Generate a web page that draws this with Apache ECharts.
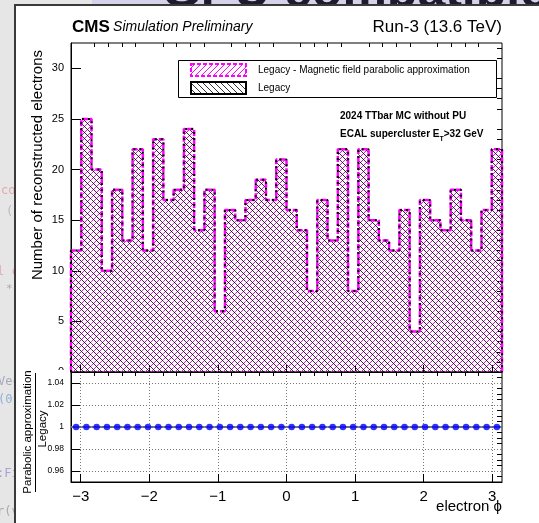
<!DOCTYPE html>
<html><head><meta charset="utf-8">
<script src="https://cdn.jsdelivr.net/npm/echarts@6/dist/echarts.min.js"></script>
<style>html,body{margin:0;padding:0;background:#fff}#c{width:539px;height:523px}</style>
</head><body><div id="c"></div>
<script>
// ---------- data ----------
const phiMin = -Math.PI, phiMax = Math.PI, nBins = 42;
const legacyCounts    = [12,25,20,10,18,13,22,12,23,17,18,24,14,18,6,16,15,17,19,17,21,16,14,8,17,13,22,8,22,15,13,12,16,4,17,15,14,18,15,12,16,22];
const parabolicCounts = [12,25,20,10,18,13,22,12,23,17,18,24,14,18,6,16,15,17,19,17,21,16,14,8,17,13,22,8,22,15,13,12,16,4,17,15,14,18,15,12,16,22];
const countTicks = [0,5,10,15,20,25,30];
const phiTicks = [-3,-2,-1,0,1,2,3];
const ratioTicks = [0.96,0.98,1,1.02,1.04];
const legendLabels = ['Legacy - Magnetic field parabolic approximation','Legacy'];
const titleLeft = 'CMS', titleItalic = 'Simulation Preliminary', titleRight = 'Run-3 (13.6 TeV)';
const note1 = '2024 TTbar MC without PU';
const yTitle = 'Number of reconstructed electrons';
const xTitle = 'electron \u03d5';
const ratioNum = 'Parabolic approximation', ratioDen = 'Legacy';

// ---------- derived ----------
const w = (phiMax - phiMin) / nBins;
function stepData(counts){
  const d = [[phiMin, 0]];
  counts.forEach((c,i)=>d.push([phiMin + i*w, c]));
  d.push([phiMax, counts[counts.length-1]]);
  d.push([phiMax, 0]);
  return d;
}
const binData = counts => counts.map((c,i)=>[phiMin + i*w, phiMin + (i+1)*w, c]);
const ratioData = legacyCounts.map((c,i)=>[phiMin + (i+0.5)*w, parabolicCounts[i]/c]);

function minorList(a, b, step, majorStep){
  const out=[];
  const n = Math.round((b-a)/step);
  for(let k=0;k<=n;k++){
    const v = +(a + k*step).toFixed(6);
    if (Math.abs(v/majorStep - Math.round(v/majorStep)) > 1e-6) out.push(v);
  }
  return out;
}
const minorPhi = minorList(-3, 3, 0.2, 1);
const minorCount = minorList(0, 32, 1, 5);
const minorRatio = minorList(0.95, 1.05, 0.005, 0.02);

// hatch segments clipped to a pixel rectangle, aligned to a global lattice
const HS = 6;
function hatchSegs(x0, x1, yt, yb, dir){
  const segs = [];
  if (x1 - x0 < 0.5 || yb - yt < 0.5) return segs;
  if (dir > 0){ // "/" : x + y = c
    const cStart = Math.ceil((x0 + yt - 1) / HS) * HS + 1;
    for (let c = cStart; c <= x1 + yb; c += HS){
      const lo = Math.max(x0, c - yb), hi = Math.min(x1, c - yt);
      if (hi > lo) segs.push([lo, c - lo, hi, c - hi]);
    }
  } else { // "\" : y - x = c
    const cStart = Math.ceil((yt - x1) / HS) * HS;
    for (let c = cStart; c <= yb - x0; c += HS){
      const lo = Math.max(x0, yt - c), hi = Math.min(x1, yb - c);
      if (hi > lo) segs.push([lo, lo + c, hi, hi + c]);
    }
  }
  return segs;
}
const segPath = segs => segs.map(s=>'M'+s[0].toFixed(2)+' '+s[1].toFixed(2)+'L'+s[2].toFixed(2)+' '+s[3].toFixed(2)).join('');

const MAG_HATCH = {stroke:'#ff00ff', lineWidth:1, fill:null};
const BLK_HATCH = {stroke:'rgba(0,0,0,0.8)', lineWidth:1, fill:null};

function hatchRender(dir, style){
  return (params, api)=>{
    const pTop = api.coord([api.value(0), api.value(2)]);
    const pBot = api.coord([api.value(1), 0]);
    return {type:'path', shape:{pathData: segPath(hatchSegs(pTop[0], pBot[0], pTop[1], pBot[1], dir))}, style:style, silent:true};
  };
}
function legendHatch(x, y, wd, ht, dir, style){
  return hatchSegs(x, x+wd, y, y+ht, dir).map(s=>({type:'line', shape:{x1:s[0],y1:s[1],x2:s[2],y2:s[3]}, style:style, z:11, silent:true}));
}

const FONT = 'Liberation Sans, Arial, Helvetica, sans-serif';
const mc = document.createElement('canvas').getContext('2d');
function tw(text, font){ mc.font = font; return mc.measureText(text).width; }
const minus = v => (v < 0 ? '\u2212' + (-v) : String(v));

const chart = echarts.init(document.getElementById('c'), null, {renderer:'canvas'});

const gridUp = {left:71, top:43, width:431, height:329};
const gridLo = {left:71, top:372, width:431, height:110};

const n2a = 'ECAL supercluster E', n2b = 'T', n2c = '>32 GeV';
const bold10 = 'bold 10px ' + FONT;
const n2x = 340, n2y = 134;
const wA = tw(n2a, bold10), wB = tw(n2b, 'bold 7px ' + FONT);

const tickStyle = {color:'#000', width:1};
const option = {
  animation:false,
  backgroundColor:'#ffffff',
  grid:[
    Object.assign({show:true, borderColor:'#000', borderWidth:1, backgroundColor:'#fff', z:0}, gridUp),
    Object.assign({show:true, borderColor:'#000', borderWidth:1, backgroundColor:'#fff', z:0}, gridLo)
  ],
  xAxis:[
    {gridIndex:0, type:'value', min:phiMin, max:phiMax,
     axisLine:{onZero:false, lineStyle:{color:'#000'}}, axisTick:{inside:true, length:7, lineStyle:tickStyle},
     axisLabel:{show:false}, splitLine:{show:false}},
    {gridIndex:0, type:'value', min:phiMin, max:phiMax,
     axisLine:{show:false, onZero:false}, axisTick:{inside:true, length:4, customValues:minorPhi, lineStyle:tickStyle},
     axisLabel:{show:false}, splitLine:{show:false}},
    {gridIndex:1, type:'value', min:phiMin, max:phiMax,
     axisLine:{onZero:false, lineStyle:{color:'#000'}}, axisTick:{inside:true, length:8, lineStyle:tickStyle},
     axisLabel:{show:true, showMinLabel:false, showMaxLabel:false, fontSize:15, color:'#000', fontFamily:FONT, margin:7,
       formatter:v=>minus(v)},
     splitLine:{show:true, lineStyle:{color:'#777', type:[1,2], width:1}}},
    {gridIndex:1, type:'value', min:phiMin, max:phiMax,
     axisLine:{show:false, onZero:false}, axisTick:{inside:true, length:4, customValues:minorPhi, lineStyle:tickStyle},
     axisLabel:{show:false}, splitLine:{show:false}}
  ],
  yAxis:[
    {gridIndex:0, type:'value', min:0, max:32.5, interval:5,
     axisLine:{show:true, onZero:false, lineStyle:{color:'#000'}}, axisTick:{inside:true, length:10, lineStyle:tickStyle},
     axisLabel:{showMaxLabel:false, fontSize:11, color:'#000', fontFamily:FONT, margin:7}, splitLine:{show:false}},
    {gridIndex:0, type:'value', min:0, max:32.5,
     axisLine:{show:false, onZero:false}, axisTick:{inside:true, length:5, customValues:minorCount, lineStyle:tickStyle},
     axisLabel:{show:false}, splitLine:{show:false}},
    {gridIndex:1, type:'value', min:0.95, max:1.05, splitNumber:5,
     axisLine:{show:true, onZero:false, lineStyle:{color:'#000'}}, axisTick:{inside:true, length:9, lineStyle:tickStyle},
     axisLabel:{showMinLabel:false, showMaxLabel:false, fontSize:8.5, color:'#000', fontFamily:FONT, margin:7,
       formatter:v=>String(+v.toFixed(2))},
     splitLine:{show:true, lineStyle:{color:'#777', type:[1,2], width:1}}},
    {gridIndex:1, type:'value', min:0.95, max:1.05,
     axisLine:{show:false, onZero:false}, axisTick:{inside:true, length:5, customValues:minorRatio, lineStyle:tickStyle},
     axisLabel:{show:false}, splitLine:{show:false}}
  ],
  series:[
    {type:'custom', xAxisIndex:0, yAxisIndex:0, data:binData(parabolicCounts), renderItem:hatchRender(1, MAG_HATCH), z:2},
    {type:'custom', xAxisIndex:0, yAxisIndex:0, data:binData(legacyCounts), renderItem:hatchRender(-1, BLK_HATCH), z:3},
    {type:'line', name:legendLabels[0], xAxisIndex:0, yAxisIndex:0, data:stepData(parabolicCounts), step:'end',
     symbol:'none', lineStyle:{color:'#ff00ff', width:2.5, type:[6,2]}, z:4},
    {type:'line', name:legendLabels[1], xAxisIndex:0, yAxisIndex:0, data:stepData(legacyCounts), step:'end',
     symbol:'none', lineStyle:{color:'#000', width:2, type:[2,4]}, z:5},
    {type:'custom', xAxisIndex:2, yAxisIndex:2, data:ratioData, z:5,
     renderItem:(params, api)=>{
       const p0 = api.coord([api.value(0) - w/2, api.value(1)]);
       const p1 = api.coord([api.value(0) + w/2, api.value(1)]);
       return {type:'line', shape:{x1:p0[0], y1:p0[1], x2:p1[0], y2:p1[1]}, style:{stroke:'#666680', lineWidth:2}};
     }},
    {type:'scatter', xAxisIndex:2, yAxisIndex:2, data:ratioData, symbol:'circle', symbolSize:6.5,
     itemStyle:{color:'#0000ff'}, z:6}
  ],
  graphic:[
    {type:'rect', shape:{x:0,y:0,width:539,height:523}, style:{fill:'#e6e6e6'}, z:-30, silent:true},
    {type:'rect', shape:{x:92,y:0,width:447,height:6}, style:{fill:'#d8d1ea'}, z:-29, silent:true},
    {type:'text', x:548, y:18, style:{text:'GPU compatible', font:'bold 50px '+FONT, fill:'#1c1c2c', align:'right', verticalAlign:'bottom'}, z:-28, silent:true},
    {type:'text', x:1, y:191, style:{text:'co', font:'12px DejaVu Sans Mono', fill:'#e2a7ad', verticalAlign:'middle'}, z:-28},
    {type:'text', x:6, y:212, style:{text:'(', font:'12px DejaVu Sans Mono', fill:'#b8b8c8', verticalAlign:'middle'}, z:-28},
    {type:'text', x:-3, y:272, style:{text:'l c', font:'12px DejaVu Sans Mono', fill:'#e2a7ad', verticalAlign:'middle'}, z:-28},
    {type:'text', x:6, y:289, style:{text:'*', font:'11px DejaVu Sans Mono', fill:'#aaaaaa', verticalAlign:'middle'}, z:-28},
    {type:'text', x:-2, y:382, style:{text:'Vec', font:'12px DejaVu Sans Mono', fill:'#a6a9bd', verticalAlign:'middle'}, z:-28},
    {type:'text', x:-2, y:400, style:{text:'(0)', font:'12px DejaVu Sans Mono', fill:'#8fb0d8', verticalAlign:'middle'}, z:-28},
    {type:'text', x:-3, y:474, style:{text:':Fi', font:'12px DejaVu Sans Mono', fill:'#a9a2da', verticalAlign:'middle'}, z:-28},
    {type:'text', x:-3, y:512, style:{text:'r(v', font:'12px DejaVu Sans Mono', fill:'#aaaaaa', verticalAlign:'middle'}, z:-28},
    {type:'rect', shape:{x:14,y:4,width:525,height:519}, style:{fill:'#3a3a3a'}, z:-27, silent:true},
    {type:'rect', shape:{x:16,y:6,width:523,height:517}, style:{fill:'#ffffff'}, z:-26, silent:true},
    {type:'text', x:72, y:27, style:{rich:{b:{font:'bold 17px '+FONT, fill:'#000'}, i:{font:'italic 14px '+FONT, fill:'#000'}},
      text:'{b|'+titleLeft+'} {i|'+titleItalic+'}', verticalAlign:'middle'}, z:10},
    {type:'text', x:502, y:27, style:{text:titleRight, font:'17px '+FONT, fill:'#000', align:'right', verticalAlign:'middle'}, z:10},
    {type:'rect', shape:{x:178.5,y:60.5,width:318,height:37}, style:{fill:'#fff', stroke:'#000', lineWidth:1}, z:10},
    ...legendHatch(191, 64, 55, 12, 1, MAG_HATCH),
    ...legendHatch(191, 82, 55, 12, -1, BLK_HATCH),
    {type:'rect', shape:{x:191,y:64,width:55,height:12}, style:{fill:null, stroke:'#ff00ff', lineWidth:2, lineDash:[4,2]}, z:12},
    {type:'rect', shape:{x:191,y:82,width:55,height:12}, style:{fill:null, stroke:'#000', lineWidth:2}, z:12},
    {type:'text', x:258, y:70.5, style:{text:legendLabels[0], font:'10px '+FONT, fill:'#000', verticalAlign:'middle'}, z:11},
    {type:'text', x:258, y:88.5, style:{text:legendLabels[1], font:'10px '+FONT, fill:'#000', verticalAlign:'middle'}, z:11},
    {type:'text', x:340, y:116, style:{text:note1, font:bold10, fill:'#000', verticalAlign:'middle'}, z:11},
    {type:'text', x:n2x, y:n2y, style:{text:n2a, font:bold10, fill:'#000', verticalAlign:'middle'}, z:11},
    {type:'text', x:n2x+wA, y:n2y+5, style:{text:n2b, font:'bold 7px '+FONT, fill:'#000', verticalAlign:'middle'}, z:11},
    {type:'text', x:n2x+wA+wB, y:n2y, style:{text:n2c, font:bold10, fill:'#000', verticalAlign:'middle'}, z:11},
    {type:'text', x:38, y:165, rotation:Math.PI/2, style:{text:yTitle, font:'15px '+FONT, fill:'#000', align:'center', verticalAlign:'middle'}, z:11},
    {type:'text', x:502, y:507, style:{text:xTitle, font:'15px '+FONT, fill:'#000', align:'right', verticalAlign:'middle'}, z:11},
    {type:'text', x:28, y:432, rotation:Math.PI/2, style:{text:ratioNum, font:'11.5px '+FONT, fill:'#000', align:'center', verticalAlign:'middle'}, z:11},
    {type:'line', shape:{x1:35.5,y1:373,x2:35.5,y2:492}, style:{stroke:'#000', lineWidth:1}, z:11},
    {type:'text', x:43, y:429, rotation:Math.PI/2, style:{text:ratioDen, font:'11.5px '+FONT, fill:'#000', align:'center', verticalAlign:'middle'}, z:11},
    {type:'rect', shape:{x:45,y:370,width:25,height:7}, style:{fill:'#fff'}, z:20, silent:true}
  ]
};
chart.setOption(option);
</script></body></html>
